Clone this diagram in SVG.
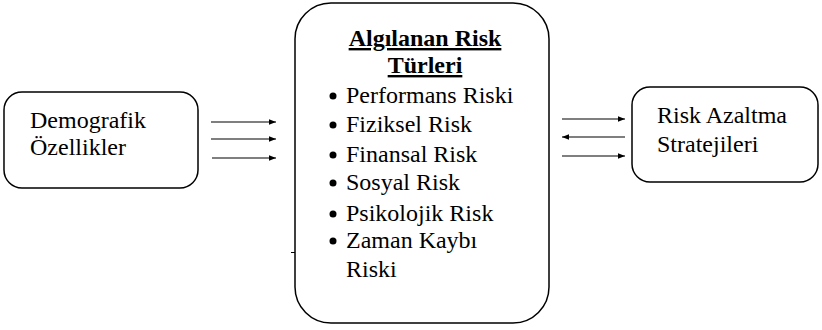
<svg xmlns="http://www.w3.org/2000/svg" width="822" height="330" viewBox="0 0 822 330" font-family="'Liberation Serif', 'Times New Roman', serif">
<defs>
<marker id="ah" viewBox="0 0 10 10" refX="10" refY="5" markerWidth="7" markerHeight="7" markerUnits="userSpaceOnUse" orient="auto"><path d="M0,1 L10,5 L0,9 z" fill="#000"/></marker>
<style>
.box{fill:#fff;stroke:#000;stroke-width:1.5}
.t{font-family:'Liberation Serif','Times New Roman',serif;fill:#000;font-size:24px}
.c{stroke:#000;stroke-width:1.2;fill:none;marker-end:url(#ah)}
</style>
</defs>
<rect width="822" height="330" fill="#fff"/>
<g id="demografik">
<rect class="box" x="4" y="92" width="194" height="96" rx="18"/>
<text class="t" x="30" y="128">Demografik</text>
<text class="t" x="30" y="155">Özellikler</text>
</g>
<g id="algilanan">
<rect class="box" x="295" y="3" width="254" height="320" rx="36"/>
<text class="t" x="425" y="46" text-anchor="middle" font-weight="bold" text-decoration="underline">Algılanan Risk</text>
<text class="t" x="425" y="73" text-anchor="middle" font-weight="bold" text-decoration="underline">Türleri</text>
<g class="t">
<circle cx="333" cy="96" r="3.5"/><text x="346" y="103">Performans Riski</text>
<circle cx="333" cy="125" r="3.5"/><text x="346" y="132">Fiziksel Risk</text>
<circle cx="333" cy="155" r="3.5"/><text x="346" y="162">Finansal Risk</text>
<circle cx="333" cy="183" r="3.5"/><text x="346" y="190">Sosyal Risk</text>
<circle cx="333" cy="214" r="3.5"/><text x="346" y="221">Psikolojik Risk</text>
<circle cx="333" cy="241" r="3.5"/><text x="346" y="248">Zaman Kaybı</text>
<text x="346" y="277">Riski</text>
</g>
<line x1="291" y1="252.5" x2="295" y2="252.5" stroke="#000" stroke-width="1"/>
</g>
<g id="risk-azaltma">
<rect class="box" x="632" y="87" width="186" height="95" rx="18"/>
<text class="t" x="657" y="123">Risk Azaltma</text>
<text class="t" x="657" y="152" font-size="26">Stratejileri</text>
</g>
<g id="connectors">
<line class="c" x1="211" y1="122" x2="276" y2="122"/>
<line class="c" x1="211" y1="139" x2="276" y2="139"/>
<line class="c" x1="212" y1="158" x2="276" y2="158"/>
<line class="c" x1="562" y1="119" x2="625" y2="119"/>
<line class="c" x1="625" y1="137" x2="562" y2="137"/>
<line class="c" x1="562" y1="156" x2="625" y2="156"/>
</g>
</svg>
